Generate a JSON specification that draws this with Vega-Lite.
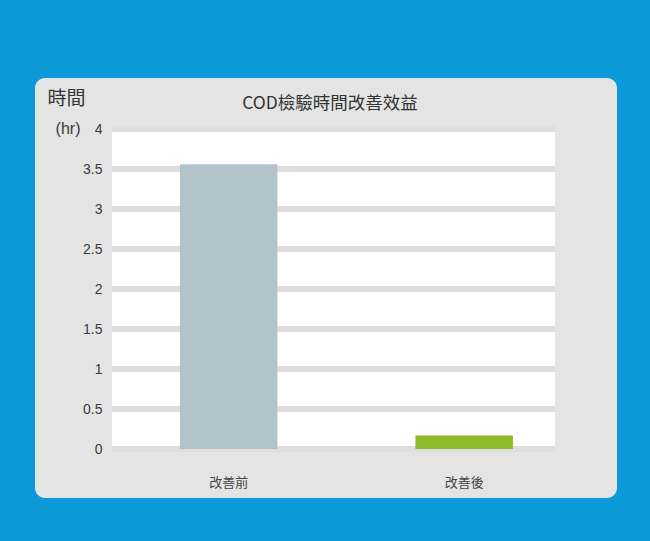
{
  "$schema": "https://vega.github.io/schema/vega-lite/v6.json",
  "width": 582,
  "height": 420,
  "autosize": {"type": "none"},
  "padding": {"left": 35, "top": 78, "right": 33, "bottom": 43},
  "background": "#0b9ad7",
  "config": {
    "view": {"fill": "#e4e4e4", "stroke": null, "cornerRadius": 10},
    "axis": {"domain": false, "ticks": false, "tickSize": 0, "grid": false}
  },
  "title": {
    "text": "COD檢驗時間改善效益",
    "anchor": "middle",
    "frame": "group",
    "offset": 0,
    "baseline": "middle",
    "dy": 43,
    "dx": 4,
    "font": "Noto Sans CJK TC",
    "fontSize": 17.5,
    "fontWeight": "normal",
    "color": "#333333"
  },
  "layer": [
    {
      "data": {"values": [{}]},
      "mark": {"type": "rect", "fill": "#ffffff"},
      "encoding": {
        "x": {"datum": 0, "type": "quantitative", "scale": {"domain": [-0.1738, 1.14], "nice": false, "zero": false}, "axis": null},
        "x2": {"datum": 1},
        "y": {"datum": 0, "type": "quantitative", "scale": {"domain": [-0.6125, 4.6375], "nice": false, "zero": false},
              "axis": {"values": [0, 0.5, 1, 1.5, 2, 2.5, 3, 3.5, 4], "format": "~g", "offset": -77, "labelPadding": 10,
                       "labelFont": "Liberation Sans", "labelFontSize": 14, "labelColor": "#3a3a3a",
                       "title": "(hr)", "titleAngle": 0, "titleAlign": "right", "titleBaseline": "middle",
                       "titleX": -32, "titleY": 50, "titleFont": "Liberation Sans", "titleFontSize": 16,
                       "titleFontWeight": "normal", "titleColor": "#3a3a3a"}},
        "y2": {"datum": 4}
      }
    },
    {
      "data": {"values": [{"level": 0}, {"level": 0.5}, {"level": 1}, {"level": 1.5}, {"level": 2}, {"level": 2.5}, {"level": 3}, {"level": 3.5}, {"level": 4}]},
      "mark": {"type": "rule", "stroke": "#dedede", "strokeWidth": 6},
      "encoding": {
        "x": {"datum": 0, "type": "quantitative", "scale": {"domain": [-0.1738, 1.14], "nice": false, "zero": false}, "axis": null},
        "x2": {"datum": 1},
        "y": {"field": "level", "type": "quantitative", "scale": {"domain": [-0.6125, 4.6375], "nice": false, "zero": false},
              "axis": {"values": [0, 0.5, 1, 1.5, 2, 2.5, 3, 3.5, 4], "format": "~g", "offset": -77, "labelPadding": 10,
                       "labelFont": "Liberation Sans", "labelFontSize": 14, "labelColor": "#3a3a3a",
                       "title": "(hr)", "titleAngle": 0, "titleAlign": "right", "titleBaseline": "middle",
                       "titleX": -32, "titleY": 50, "titleFont": "Liberation Sans", "titleFontSize": 16,
                       "titleFontWeight": "normal", "titleColor": "#3a3a3a"}}
      }
    },
    {
      "data": {"values": [{"stage": "改善前", "hours": 3.56}, {"stage": "改善後", "hours": 0.17}]},
      "mark": {"type": "bar"},
      "encoding": {
        "x": {"field": "stage", "type": "nominal", "sort": ["改善前", "改善後"],
              "scale": {"paddingInner": 0.586, "paddingOuter": 0.5287, "align": 0.582},
              "axis": {"offset": -16, "labelPadding": 0, "labelBaseline": "middle", "labelAngle": 0,
                       "labelFont": "Noto Sans CJK TC", "labelFontSize": 13, "labelColor": "#444444",
                       "title": "時間", "titleAngle": 0, "titleAlign": "right", "titleBaseline": "middle",
                       "titleX": 50, "titleY": -384, "titleFont": "Noto Sans CJK TC", "titleFontSize": 19,
                       "titleFontWeight": "normal", "titleColor": "#333333"}},
        "y": {"field": "hours", "type": "quantitative", "scale": {"domain": [-0.6125, 4.6375], "nice": false, "zero": false},
              "axis": {"values": [0, 0.5, 1, 1.5, 2, 2.5, 3, 3.5, 4], "format": "~g", "offset": -77, "labelPadding": 10,
                       "labelFont": "Liberation Sans", "labelFontSize": 14, "labelColor": "#3a3a3a",
                       "title": "(hr)", "titleAngle": 0, "titleAlign": "right", "titleBaseline": "middle",
                       "titleX": -32, "titleY": 50, "titleFont": "Liberation Sans", "titleFontSize": 16,
                       "titleFontWeight": "normal", "titleColor": "#3a3a3a"}},
        "color": {"field": "stage", "type": "nominal",
                  "scale": {"domain": ["改善前", "改善後"], "range": ["#b3c3cb", "#8dbb2a"]}, "legend": null}
      }
    }
  ],
  "resolve": {"scale": {"x": "independent"}}
}
